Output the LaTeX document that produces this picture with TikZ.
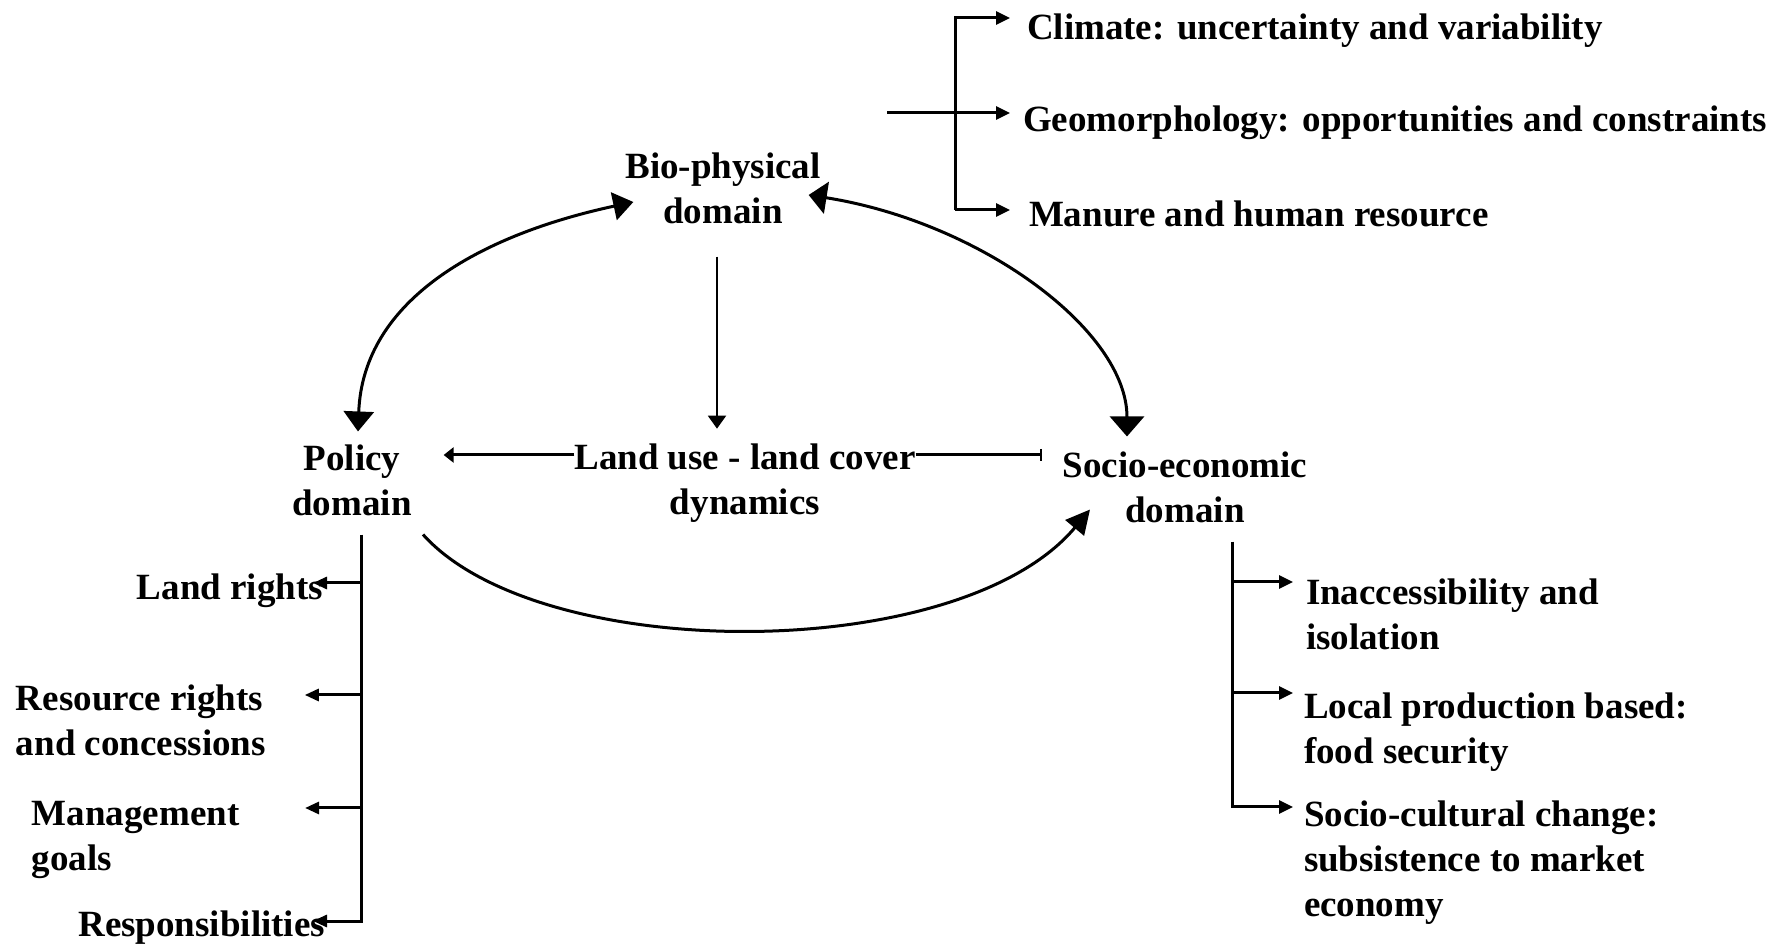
\documentclass[tikz,border=0pt]{standalone}
\usepackage{fontspec}
\setmainfont{Liberation Serif}
\usetikzlibrary{arrows.meta}
\begin{document}
\begin{tikzpicture}[x=0.5pt,y=-0.5pt,
  txt/.style={font=\fontsize{18.5}{22.5}\selectfont\bfseries, inner sep=0pt, outer sep=0pt},
  ln/.style={line width=1.5pt},
  sarr/.style={line width=1.5pt, -{Triangle[length=7pt,width=6.5pt]}},
  parr/.style={line width=1.5pt, -{Triangle[length=7pt,width=6pt]}},
  harr/.style={line width=1.5pt, -{Triangle[length=5pt,width=7.5pt]}},
  barr/.style={line width=1.5pt, -{Bar[width=6pt,line width=1pt]}},
  darr/.style={line width=1pt, -{Triangle[length=6.5pt,width=9pt]}},
  arcline/.style={line width=1.5pt}]
\useasboundingbox (0,0) rectangle (1778,945);

% main nodes
\node[txt, align=center] (bio) at (723,188) {Bio-physical\\domain};
\node[txt, align=center] (policy) at (352,480) {Policy\\domain};
\node[txt, align=center] (land) at (745,483) {Land use - land cover\\dynamics};
\node[txt, align=center] (socio) at (1185,487) {Socio-economic\\domain};

% top list
\node[txt, anchor=base west] (climate) at (1027,40) {Climate: uncertainty and variability};
\node[txt, anchor=base west] (geo) at (1023,132) {Geomorphology: opportunities and constraints};
\node[txt, anchor=base west] (manure) at (1029,227) {Manure and human resource};

% left list
\node[txt, anchor=base east] (lrights) at (323,600) {Land rights};
\node[txt, align=left, anchor=north west] (resource) at (16,685) {Resource rights\\and concessions};
\node[txt, align=left, anchor=north west] (mgmt) at (32,801) {Management\\goals};
\node[txt, anchor=base east] (resp) at (325,936) {Responsibilities};

% right list
\node[txt, align=left, anchor=north west] (inacc) at (1306,579) {Inaccessibility and\\isolation};
\node[txt, align=left, anchor=north west] (local) at (1304,693) {Local production based:\\food security};
\node[txt, align=left, anchor=north west] (sociocult) at (1304,801) {Socio-cultural change:\\subsistence to market\\economy};

% big arcs
\draw[arcline, {Triangle[length=10pt,width=14pt]}-{Triangle[length=10pt,width=15pt]}]
  ([shift={(8,14)}]bio.west) .. controls (480,235) and (363,300) .. ([shift={(6,-13)}]policy.north);
\draw[arcline, {Triangle[length=9pt,width=16pt]}-{Triangle[length=10pt,width=17pt]}]
  ([shift={(-12,7)}]bio.east) .. controls (980,222) and (1127,330) .. ([shift={(-58,-15)}]socio.north);
\draw[arcline, -{Triangle[length=12pt,width=12pt]}]
  ([shift={(71,19)}]policy.south) .. controls (540,665) and (960,665) .. ([shift={(-95,-13)}]socio.south);

% central arrows
\coordinate (bs) at ([shift={(-6,33)}]bio.south);
\draw[darr, shorten >=7.5pt] (bs) -- (bs |- land.north);
\coordinate (lp) at ([yshift=14pt]land.west);
\draw[harr, shorten >=16pt] (lp) -- (lp -| policy.east);
\coordinate (ls) at ([yshift=14pt]land.east);
\draw[barr, shorten >=10.5pt] (ls) -- (ls -| socio.west);

% top bracket
\coordinate (b1) at (955,18);
\coordinate (b2) at (955,113);
\coordinate (b3) at (955,210);
\coordinate (gin) at (887,113);
\draw[sarr, shorten >=8.5pt] (b3) -- (b1) -- (b1 -| climate.west);
\draw[sarr, shorten >=6.5pt] (gin) -- (b2 -| geo.west);
\draw[sarr, shorten >=9.5pt] (b3) -- (b3 -| manure.west);

% policy branch
\coordinate (p0) at ([shift={(9,19)}]policy.south);
\coordinate (p1) at (361,583);
\coordinate (p2) at (361,695);
\coordinate (p3) at (361,808);
\coordinate (p4) at (361,921);
\draw[parr, shorten >=-6pt] (p0) -- (p4) -- (p4 -| resp.east);
\draw[parr, shorten >=-5pt] (p1) -- (p1 -| lrights.east);
\draw[parr, shorten >=19.5pt] (p2) -- (p2 -| resource.east);
\draw[parr, shorten >=32.75pt] (p3) -- (p3 -| mgmt.east);

% socio branch
\coordinate (s0) at ([shift={(47,19)}]socio.south);
\coordinate (s1) at (1232,582);
\coordinate (s2) at (1232,693);
\coordinate (s3) at (1232,807);
\draw[sarr, shorten >=5.5pt] (s0) -- (s3) -- (s3 -| sociocult.west);
\draw[sarr, shorten >=6.5pt] (s1) -- (s1 -| inacc.west);
\draw[sarr, shorten >=5.5pt] (s2) -- (s2 -| local.west);
\end{tikzpicture}
\end{document}
